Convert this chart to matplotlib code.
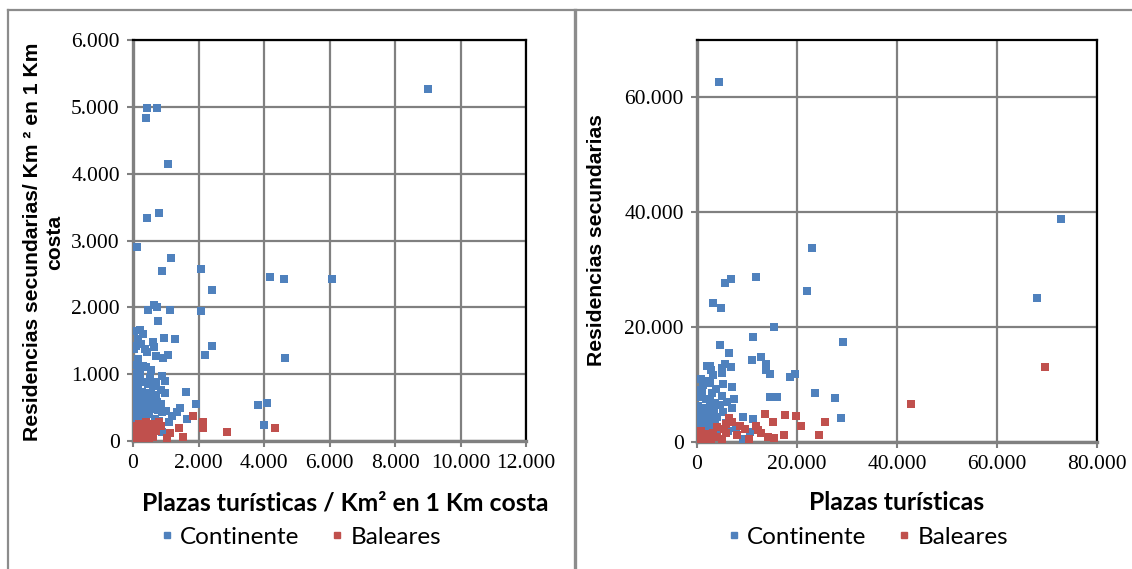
import matplotlib
matplotlib.use("Agg")
import matplotlib.pyplot as plt
from matplotlib.lines import Line2D
from matplotlib.ticker import FuncFormatter

# ---------------- data ----------------
series_names = ["Continente", "Baleares"]

# Left chart: per km2 in 1 km coastal strip
left_cont_x = [9000, 418, 723, 397, 1058, 427, 793, 113, 1150, 885, 2075, 2400, 4180, 4600, 6070,
               448, 650, 741, 1118, 2085, 752, 40, 213, 315, 162, 82, 244, 40, 366, 427, 620, 650,
               945, 1280, 2410, 2205, 143, 143, 690, 905, 1058, 162, 387, 550, 885, 976, 1617, 4636,
               1910, 1434, 1332, 1180, 1637, 3823, 4077, 4006,
               60, 20, 100, 200, 300, 450, 600, 80, 150, 280, 420, 560, 700, 860, 980, 30, 120, 250,
               380, 520, 40, 160, 300, 450, 620, 760, 900, 60, 200, 350, 500, 20, 120, 260, 680, 800,
               60, 180, 340, 480, 40, 150, 280, 600, 900, 20, 100, 200, 50, 1000, 850, 1100, 720, 320,
               180, 60, 220, 520, 700]
left_cont_y = [5270, 4990, 4990, 4840, 4150, 3330, 3405, 2910, 2740, 2540, 2580, 2260, 2450, 2430, 2420,
               1960, 2030, 2010, 1960, 1940, 1790, 1640, 1660, 1600, 1525, 1425, 1450, 1375, 1375, 1325,
               1485, 1400, 1540, 1520, 1420, 1280, 1225, 1175, 1270, 1240, 1290, 1060, 1100, 1060, 980,
               900, 740, 1240, 560, 490, 440, 380, 330, 540, 570, 240,
               1000, 950, 920, 900, 880, 850, 830, 800, 760, 740, 720, 700, 690, 760, 720, 680, 640, 620,
               600, 580, 560, 540, 520, 500, 480, 460, 430, 460, 440, 420, 400, 380, 360, 340, 330, 300,
               300, 280, 260, 240, 220, 200, 180, 150, 130, 120, 100, 80, 50, 450, 550, 280, 580, 1120,
               1080, 1140, 1000, 940, 880]
left_bal_x = [4340, 2877, 2145, 2145, 1830, 1410, 1128, 1515, 1027, 870, 780, 650, 700, 560, 460, 380,
              300, 250, 150, 100, 60, 30, 20, 10, 80, 200, 350, 500, 620, 400, 180, 120, 40, 250, 550]
left_bal_y = [200, 140, 290, 200, 380, 200, 120, 60, 50, 230, 280, 260, 150, 120, 80, 200,
              160, 60, 120, 230, 200, 150, 80, 30, 40, 20, 30, 40, 60, 280, 260, 20, 10, 140, 200]

# Right chart: absolute values
right_cont_x = [4360, 72700, 67900, 22900, 6860, 5540, 11800, 21920, 3230, 4750, 15370, 29240, 11260,
                4620, 6340, 12750, 11040, 5500, 5000, 4900, 6800, 1900, 2600, 2800, 3100, 13800, 13860,
                14510, 18670, 19660, 800, 1500, 1200, 2500, 5150, 2910, 23620, 27650, 14510, 16090, 7490,
                6900, 28700, 9100, 11270, 7720, 10500, 9110,
                300, 1000, 600, 1800, 2600, 3500, 4500, 200, 1200, 2200, 3300, 5200, 400, 1500, 2800,
                4000, 800, 2000, 3500, 5800, 300, 1300, 2500, 4500, 700, 1800, 3000, 500, 1500, 200,
                1000, 2500, 6000, 5000, 3800, 6200, 7000]
right_cont_y = [62640, 38800, 25100, 33800, 28360, 27600, 28760, 26270, 24130, 23370, 19960, 17450, 18220,
                16820, 15430, 14850, 14320, 13500, 12800, 12000, 13050, 13300, 13300, 12500, 11700, 13520,
                12530, 11780, 11360, 11830, 11000, 10600, 10000, 10300, 10040, 8470, 8470, 7600, 7780,
                7880, 7480, 5970, 4230, 4400, 4050, 2380, 1690, 570,
                9000, 8500, 7800, 7500, 7200, 6800, 6500, 6200, 6000, 5800, 5500, 5300, 5000, 4800, 4500,
                4300, 4000, 3800, 3500, 3300, 3000, 2800, 2500, 2300, 2000, 1800, 1500, 1200, 1000, 600,
                400, 300, 7000, 8000, 9200, 2000, 9600]
right_bal_x = [69600, 42800, 13660, 17620, 19860, 25600, 15180, 20850, 11800, 12280, 12800, 24360, 17300,
               14260, 15440, 10400, 6340, 5800, 5400, 5800, 3900, 3200, 2600, 1700, 1000, 400, 2800, 4000,
               5000, 800, 200, 1500, 7000, 8500, 9500, 8000]
right_bal_y = [13000, 6600, 4930, 4760, 4520, 3530, 3420, 2840, 2840, 2090, 1510, 1220, 1220,
               920, 750, 470, 4120, 3100, 2300, 1600, 2600, 1500, 1200, 1400, 1000, 400, 100, 800,
               500, 2000, 1700, 300, 3500, 2800, 2200, 1200]

left_xticks = [0, 2000, 4000, 6000, 8000, 10000, 12000]
left_yticks = [0, 1000, 2000, 3000, 4000, 5000, 6000]
right_xticks = [0, 20000, 40000, 60000, 80000]
right_yticks = [0, 20000, 40000, 60000]

left_xlabel = "Plazas turísticas / Km² en 1 Km costa"
left_ylabel = "Residencias secundarias/ Km ² en 1 Km\ncosta"
right_xlabel = "Plazas turísticas"
right_ylabel = "Residencias secundarias"

# ---------------- style ----------------
BLUE = "#4F81BD"
RED = "#C0504D"
GRID = "#808080"
W, H = 1132, 569

fig = plt.figure(figsize=(W / 100, H / 100), dpi=100)
fig.patch.set_facecolor("white")


def fmt(v, pos=None):
    return f"{int(round(v)):,}".replace(",", ".")


def style_axes(ax, xticks, yticks, xlim, ylim):
    ax.set_xlim(*xlim)
    ax.set_ylim(*ylim)
    ax.set_xticks(xticks)
    ax.set_yticks(yticks)
    ax.xaxis.set_major_formatter(FuncFormatter(fmt))
    ax.yaxis.set_major_formatter(FuncFormatter(fmt))
    ax.grid(True, color=GRID, linewidth=1.6, zorder=0)
    ax.set_axisbelow(True)
    for s in ["left", "bottom"]:
        ax.spines[s].set_color(GRID)
        ax.spines[s].set_linewidth(2.4)
    for s in ["top", "right"]:
        ax.spines[s].set_color("black")
        ax.spines[s].set_linewidth(1.6)
    ax.tick_params(axis="both", direction="out", length=4.5, width=1.5, color=GRID,
                   labelsize=15.5, pad=5)
    for lab in ax.get_xticklabels() + ax.get_yticklabels():
        lab.set_fontfamily("Liberation Serif")


ax1 = fig.add_axes([133 / W, 1 - 441 / H, 393 / W, 401 / H])
ax2 = fig.add_axes([697 / W, 1 - 442 / H, 400 / W, 402 / H])

ms = 38
ax1.scatter(left_cont_x, left_cont_y, s=ms, marker="s", color=BLUE, linewidths=0, zorder=3)
ax1.scatter(left_bal_x, left_bal_y, s=ms, marker="s", color=RED, linewidths=0, zorder=4)
ax2.scatter(right_cont_x, right_cont_y, s=ms, marker="s", color=BLUE, linewidths=0, zorder=3)
ax2.scatter(right_bal_x, right_bal_y, s=ms, marker="s", color=RED, linewidths=0, zorder=4)

style_axes(ax1, left_xticks, left_yticks, (0, 12000), (0, 6000))
style_axes(ax2, right_xticks, right_yticks, (0, 80000), (0, 70000))

# axis titles
fig.text(345 / W, 1 - 503 / H, left_xlabel, ha="center", va="center",
         fontsize=17.8, fontweight="bold", family="Lato")
fig.text(897 / W, 1 - 503 / H, right_xlabel, ha="center", va="center",
         fontsize=17.8, fontweight="bold", family="Lato")
fig.text(44 / W, 1 - 242 / H, left_ylabel, ha="center", va="center", rotation=90,
         fontsize=15.2, fontweight="bold", family="Liberation Sans", multialignment="center",
         linespacing=1.2)
fig.text(597 / W, 1 - 240 / H, right_ylabel, ha="center", va="center", rotation=90,
         fontsize=15.2, fontweight="bold", family="Liberation Sans")

# legends
def make_legend(ax, cx):
    handles = [Line2D([], [], marker="s", linestyle="none", color=BLUE, markersize=5),
               Line2D([], [], marker="s", linestyle="none", color=RED, markersize=5)]
    leg = ax.legend(handles, series_names, ncol=2, loc="center",
                    bbox_to_anchor=(cx / W, 1 - 537 / H), bbox_transform=fig.transFigure,
                    frameon=False, handlelength=0.5, handletextpad=0.3, columnspacing=1.3,
                    prop={"family": "Lato", "size": 17.5})
    return leg

make_legend(ax1, 301)
make_legend(ax2, 868)

# panel borders
border = dict(color="#8C8C8C", linewidth=1.6, transform=fig.transFigure)
fig.add_artist(Line2D([8 / W, 1], [1 - 10 / H, 1 - 10 / H], **border))
fig.add_artist(Line2D([8 / W, 8 / W], [0, 1 - 10 / H], **border))
fig.add_artist(Line2D([575 / W, 575 / W], [0, 1 - 10 / H], color="#8C8C8C", linewidth=2.4,
                      transform=fig.transFigure))

fig.savefig("out.png", dpi=100, facecolor="white")
